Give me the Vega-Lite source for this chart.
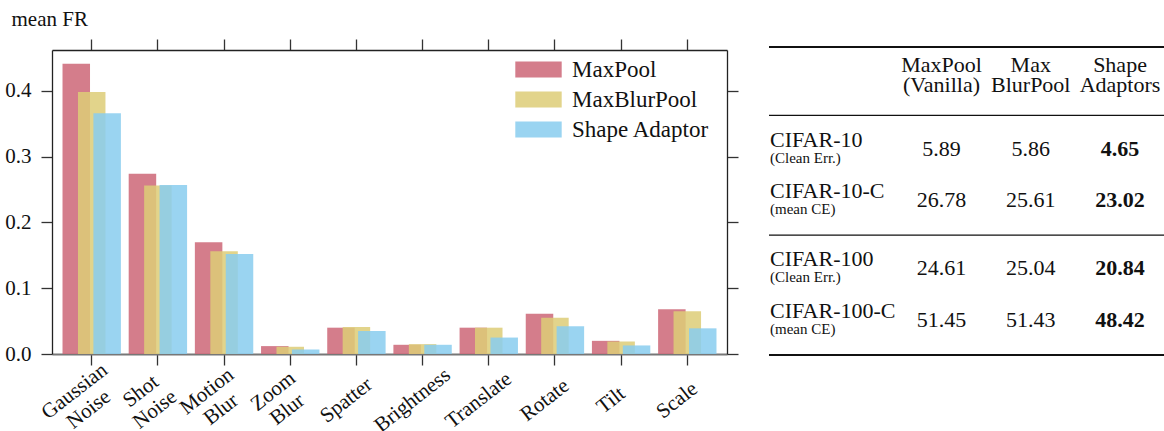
{
  "$schema": "https://vega.github.io/schema/vega-lite/v6.json",
  "background": "white",
  "padding": {"left": 4, "top": 8, "right": 0, "bottom": 0},
  "config": {
    "font": "Liberation Serif",
    "view": {"stroke": null},
    "axis": {"labelColor": "#111", "tickColor": "#333", "tickWidth": 1.3, "domainColor": "#222", "domainWidth": 1.3, "grid": false, "titleColor": "#111"}
  },
  "resolve": {"legend": {"color": "independent"}},
  "spacing": 28,
  "datasets": {
    "fr": [
      {"corruption": "Gaussian Noise", "method": "MaxPool", "fr": 0.441},
      {"corruption": "Gaussian Noise", "method": "MaxBlurPool", "fr": 0.398},
      {"corruption": "Gaussian Noise", "method": "Shape Adaptor", "fr": 0.366},
      {"corruption": "Shot Noise", "method": "MaxPool", "fr": 0.274},
      {"corruption": "Shot Noise", "method": "MaxBlurPool", "fr": 0.256},
      {"corruption": "Shot Noise", "method": "Shape Adaptor", "fr": 0.257},
      {"corruption": "Motion Blur", "method": "MaxPool", "fr": 0.170},
      {"corruption": "Motion Blur", "method": "MaxBlurPool", "fr": 0.156},
      {"corruption": "Motion Blur", "method": "Shape Adaptor", "fr": 0.152},
      {"corruption": "Zoom Blur", "method": "MaxPool", "fr": 0.012},
      {"corruption": "Zoom Blur", "method": "MaxBlurPool", "fr": 0.011},
      {"corruption": "Zoom Blur", "method": "Shape Adaptor", "fr": 0.007},
      {"corruption": "Spatter", "method": "MaxPool", "fr": 0.040},
      {"corruption": "Spatter", "method": "MaxBlurPool", "fr": 0.041},
      {"corruption": "Spatter", "method": "Shape Adaptor", "fr": 0.035},
      {"corruption": "Brightness", "method": "MaxPool", "fr": 0.014},
      {"corruption": "Brightness", "method": "MaxBlurPool", "fr": 0.015},
      {"corruption": "Brightness", "method": "Shape Adaptor", "fr": 0.014},
      {"corruption": "Translate", "method": "MaxPool", "fr": 0.040},
      {"corruption": "Translate", "method": "MaxBlurPool", "fr": 0.040},
      {"corruption": "Translate", "method": "Shape Adaptor", "fr": 0.025},
      {"corruption": "Rotate", "method": "MaxPool", "fr": 0.061},
      {"corruption": "Rotate", "method": "MaxBlurPool", "fr": 0.055},
      {"corruption": "Rotate", "method": "Shape Adaptor", "fr": 0.042},
      {"corruption": "Tilt", "method": "MaxPool", "fr": 0.020},
      {"corruption": "Tilt", "method": "MaxBlurPool", "fr": 0.019},
      {"corruption": "Tilt", "method": "Shape Adaptor", "fr": 0.013},
      {"corruption": "Scale", "method": "MaxPool", "fr": 0.068},
      {"corruption": "Scale", "method": "MaxBlurPool", "fr": 0.065},
      {"corruption": "Scale", "method": "Shape Adaptor", "fr": 0.039}
    ],
    "headers": [
      {"col": "c1", "text": "MaxPool\n(Vanilla)"},
      {"col": "c2", "text": "Max\nBlurPool"},
      {"col": "c3", "text": "Shape\nAdaptors"}
    ],
    "rowlabels": [
      {"row": "CIFAR-10", "name": "CIFAR-10", "sub": "(Clean Err.)"},
      {"row": "CIFAR-10-C", "name": "CIFAR-10-C", "sub": "(mean CE)"},
      {"row": "CIFAR-100", "name": "CIFAR-100", "sub": "(Clean Err.)"},
      {"row": "CIFAR-100-C", "name": "CIFAR-100-C", "sub": "(mean CE)"}
    ],
    "cells": [
      {"row": "CIFAR-10", "col": "c1", "value": "5.89", "best": false},
      {"row": "CIFAR-10", "col": "c2", "value": "5.86", "best": false},
      {"row": "CIFAR-10", "col": "c3", "value": "4.65", "best": true},
      {"row": "CIFAR-10-C", "col": "c1", "value": "26.78", "best": false},
      {"row": "CIFAR-10-C", "col": "c2", "value": "25.61", "best": false},
      {"row": "CIFAR-10-C", "col": "c3", "value": "23.02", "best": true},
      {"row": "CIFAR-100", "col": "c1", "value": "24.61", "best": false},
      {"row": "CIFAR-100", "col": "c2", "value": "25.04", "best": false},
      {"row": "CIFAR-100", "col": "c3", "value": "20.84", "best": true},
      {"row": "CIFAR-100-C", "col": "c1", "value": "51.45", "best": false},
      {"row": "CIFAR-100-C", "col": "c2", "value": "51.43", "best": false},
      {"row": "CIFAR-100-C", "col": "c3", "value": "48.42", "best": true}
    ],
    "rules": [
      {"row": "top", "kind": "thick"},
      {"row": "mid1", "kind": "thin"},
      {"row": "mid2", "kind": "thin"},
      {"row": "bottom", "kind": "thick"}
    ]
  },
  "hconcat": [
    {
      "width": 675,
      "height": 304,
      "data": {"name": "fr"},
      "layer": [
        {
          "mark": {"type": "bar", "opacity": 0.85, "width": 27.5},
          "encoding": {
            "x": {
              "field": "corruption", "type": "nominal",
              "sort": ["Gaussian Noise", "Shot Noise", "Motion Blur", "Zoom Blur", "Spatter", "Brightness", "Translate", "Rotate", "Tilt", "Scale"],
              "scale": {"paddingInner": 0.3, "paddingOuter": 0.25},
              "axis": {
                "orient": "bottom", "title": null,
                "labelExpr": "split(datum.label, ' ')",
                "labelAngle": -38, "labelAlign": "center", "labelBaseline": "middle",
                "labelFontSize": 21, "labelLineHeight": 23,
                "labelPadding": {"condition": {"test": "indexof(['Gaussian Noise', 'Shot Noise', 'Motion Blur', 'Zoom Blur'], datum.value) >= 0", "value": 26}, "value": 35},
                "labelOffset": {"condition": {"test": "indexof(['Gaussian Noise', 'Shot Noise', 'Motion Blur', 'Zoom Blur'], datum.value) >= 0", "value": -17}, "value": -10},
                "tickSize": 11, "domainColor": "#777", "domainWidth": 2
              }
            },
            "xOffset": {
              "field": "method", "type": "nominal",
              "sort": ["MaxPool", "MaxBlurPool", "Shape Adaptor"],
              "scale": {"paddingInner": 0, "paddingOuter": 0}
            },
            "y": {
              "field": "fr", "type": "quantitative",
              "scale": {"domain": [0, 0.462], "nice": false},
              "axis": {
                "orient": "left", "title": "mean FR", "titleAngle": 0, "titleAlign": "left",
                "titleBaseline": "alphabetic", "titleX": -41, "titleY": -25,
                "titleFontSize": 21, "titleFontWeight": "normal",
                "values": [0, 0.1, 0.2, 0.3, 0.4], "format": ".1f",
                "labelFontSize": 21, "labelPadding": 10, "tickSize": 11
              }
            },
            "color": {
              "field": "method", "type": "nominal",
              "sort": ["MaxPool", "MaxBlurPool", "Shape Adaptor"],
              "scale": {"domain": ["MaxPool", "MaxBlurPool", "Shape Adaptor"], "range": ["#CC6677", "#DDCC77", "#88CCEE"]},
              "legend": {
                "orient": "none", "legendX": 475, "legendY": 8, "title": null,
                "symbolType": "M-2.9,-1H2.9V1H-2.9Z", "symbolSize": 256,
                "symbolOpacity": 0.85, "symbolStrokeWidth": 0,
                "labelFontSize": 23, "labelColor": "#111", "labelOffset": 22, "rowPadding": 6
              }
            }
          }
        },
        {
          "mark": {"type": "point", "opacity": 0},
          "encoding": {
            "x": {
              "field": "corruption", "type": "nominal",
              "sort": ["Gaussian Noise", "Shot Noise", "Motion Blur", "Zoom Blur", "Spatter", "Brightness", "Translate", "Rotate", "Tilt", "Scale"],
              "axis": {"orient": "top", "title": null, "labels": false, "tickSize": 11}
            },
            "y": {
              "field": "fr", "type": "quantitative",
              "axis": {"orient": "right", "title": null, "labels": false, "values": [0, 0.1, 0.2, 0.3, 0.4], "tickSize": 11}
            }
          }
        }
      ],
      "resolve": {"axis": {"x": "independent", "y": "independent"}}
    },
    {
      "width": 397,
      "height": 308,
      "encoding": {
        "x": {"type": "nominal", "scale": {"type": "point", "domain": ["label", "gap", "c1", "c2", "c3"], "range": [-6, 351], "padding": 0}, "axis": null},
        "y": {"type": "nominal", "scale": {"type": "point", "domain": ["top", "s1", "header", "s2", "mid1", "s3", "CIFAR-10", "s4", "s5", "CIFAR-10-C", "s6", "mid2", "s7", "CIFAR-100", "s8", "s9", "CIFAR-100-C", "s10", "bottom"], "range": [-3, 305], "padding": 0}, "axis": null}
      },
      "layer": [
        {
          "data": {"name": "rules"},
          "transform": [{"filter": "datum.kind == 'thick'"}],
          "mark": {"type": "rule", "strokeWidth": 2.2, "color": "#111"},
          "encoding": {"y": {"field": "row"}}
        },
        {
          "data": {"name": "rules"},
          "transform": [{"filter": "datum.kind == 'thin'"}],
          "mark": {"type": "rule", "strokeWidth": 1.2, "color": "#111"},
          "encoding": {"y": {"field": "row"}}
        },
        {
          "data": {"name": "headers"},
          "mark": {"type": "text", "fontSize": 22, "lineBreak": "\n", "lineHeight": 20, "align": "center", "baseline": "middle", "dy": -16, "color": "#111"},
          "encoding": {"x": {"field": "col"}, "y": {"datum": "header"}, "text": {"field": "text"}}
        },
        {
          "data": {"name": "rowlabels"},
          "mark": {"type": "text", "fontSize": 22, "align": "left", "baseline": "middle", "dx": 7, "dy": -10, "color": "#111"},
          "encoding": {"x": {"datum": "label"}, "y": {"field": "row"}, "text": {"field": "name"}}
        },
        {
          "data": {"name": "rowlabels"},
          "mark": {"type": "text", "fontSize": 15, "align": "left", "baseline": "middle", "dx": 7, "dy": 8, "color": "#111"},
          "encoding": {"x": {"datum": "label"}, "y": {"field": "row"}, "text": {"field": "sub"}}
        },
        {
          "data": {"name": "cells"},
          "transform": [{"filter": "!datum.best"}],
          "mark": {"type": "text", "fontSize": 22, "align": "center", "baseline": "middle", "dy": -1, "color": "#111"},
          "encoding": {"x": {"field": "col"}, "y": {"field": "row"}, "text": {"field": "value"}}
        },
        {
          "data": {"name": "cells"},
          "transform": [{"filter": "datum.best"}],
          "mark": {"type": "text", "fontSize": 22, "fontWeight": "bold", "align": "center", "baseline": "middle", "dy": -1, "color": "#111"},
          "encoding": {"x": {"field": "col"}, "y": {"field": "row"}, "text": {"field": "value"}}
        }
      ]
    }
  ]
}
